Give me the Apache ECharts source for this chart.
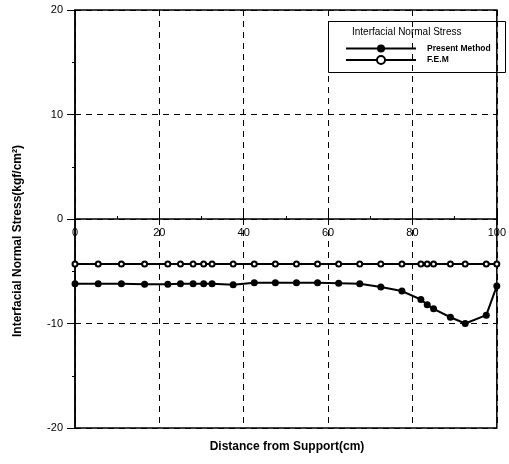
<!DOCTYPE html>
<html>
<head>
<meta charset="utf-8">
<script src="https://cdn.jsdelivr.net/npm/echarts@6/dist/echarts.min.js"></script>
<style>
  html, body { margin: 0; padding: 0; background: #fff; }
  #main { width: 509px; height: 464px; }
</style>
</head>
<body>
<div id="main"></div>
<script>
// distance from support (cm)
var xs = [0, 5.5, 11, 16.5, 22, 25, 28, 30.5, 32.5, 37.5, 42.5, 47.5, 52.5, 57.5,
          62.5, 67.5, 72.5, 77.5, 82, 83.5, 85, 89, 92.5, 97.5, 100];
// present method
var present = [-6.2, -6.2, -6.2, -6.25, -6.25, -6.2, -6.2, -6.2, -6.2, -6.3, -6.1, -6.1, -6.1, -6.1,
               -6.15, -6.2, -6.5, -6.9, -7.7, -8.2, -8.6, -9.4, -10.0, -9.2, -6.4];
// F.E.M
var fem = [-4.3, -4.3, -4.3, -4.3, -4.3, -4.3, -4.3, -4.3, -4.3, -4.3, -4.3, -4.3, -4.3, -4.3,
           -4.3, -4.3, -4.3, -4.3, -4.3, -4.3, -4.3, -4.3, -4.3, -4.3, -4.3];

function pairs(v) {
  return xs.map(function (x, i) { return [x, v[i]]; });
}

var chart = echarts.init(document.getElementById('main'));
var font = 'Liberation Sans, Arial, sans-serif';

chart.setOption({
  animation: false,
  grid: {
    left: 75, right: 2, top: 10, bottom: 36,
    show: true, borderColor: '#000', borderWidth: 1.5
  },
  legend: {
    left: 340, top: 39,
    orient: 'vertical',
    itemWidth: 70, itemHeight: 10, itemGap: 2,
    textStyle: { fontFamily: font, fontSize: 8.5, fontWeight: 'bold', color: '#000',
                 padding: [0, 0, 0, 6] },
    data: ['Present Method', 'F.E.M']
  },
  graphic: [
    { type: 'rect', left: 326, top: 19, shape: { width: 177, height: 51 },
      style: { fill: 'none', stroke: '#000', lineWidth: 1 }, z: 10 },
    { type: 'text', left: 352, top: 27,
      style: { text: 'Interfacial Normal Stress', font: '10px ' + font, fill: '#000' }, z: 10 },
    { type: 'text', x: 18, y: 241, rotation: Math.PI / 2,
      style: { text: 'Interfacial Normal Stress(kgf/cm²)', font: 'bold 12px ' + font,
               fill: '#000', align: 'center', verticalAlign: 'middle' } },
    { type: 'text', x: 287, y: 447,
      style: { text: 'Distance from Support(cm)', font: 'bold 12px ' + font,
               fill: '#000', align: 'center', verticalAlign: 'middle' } }
  ],
  xAxis: [{
    type: 'value', min: 0, max: 100, interval: 20,
    offset: -209,
    axisLine: { onZero: false, lineStyle: { color: '#000', width: 1.5 } },
    axisTick: { inside: true, length: 5, lineStyle: { color: '#000' } },
    minorTick: { show: true, splitNumber: 2, length: 3, lineStyle: { color: '#000' } },
    axisLabel: { color: '#000', fontFamily: font, fontSize: 11, margin: 8 },
    splitLine: { show: true, lineStyle: { color: '#000', type: [6, 5], width: 1 } }
  }],
  yAxis: [{
    type: 'value', min: -20, max: 20, interval: 10,
    axisLine: { show: true, lineStyle: { color: '#000', width: 1.5 } },
    axisTick: { length: 8, lineStyle: { color: '#000' } },
    minorTick: { show: true, splitNumber: 2, length: 3, lineStyle: { color: '#000' } },
    axisLabel: { color: '#000', fontFamily: font, fontSize: 11, margin: 12 },
    splitLine: { show: true, lineStyle: { color: '#000', type: [6, 5], width: 1 } }
  }],
  series: [{
    name: 'Present Method', type: 'line', data: pairs(present),
    symbol: 'circle', symbolSize: 7,
    itemStyle: { color: '#000' },
    lineStyle: { color: '#000', width: 2 }
  }, {
    name: 'F.E.M', type: 'line', data: pairs(fem),
    symbol: 'emptyCircle', symbolSize: 5,
    itemStyle: { color: '#000', borderColor: '#000', borderWidth: 2 },
    lineStyle: { color: '#000', width: 2 }
  }]
});
</script>
</body>
</html>
